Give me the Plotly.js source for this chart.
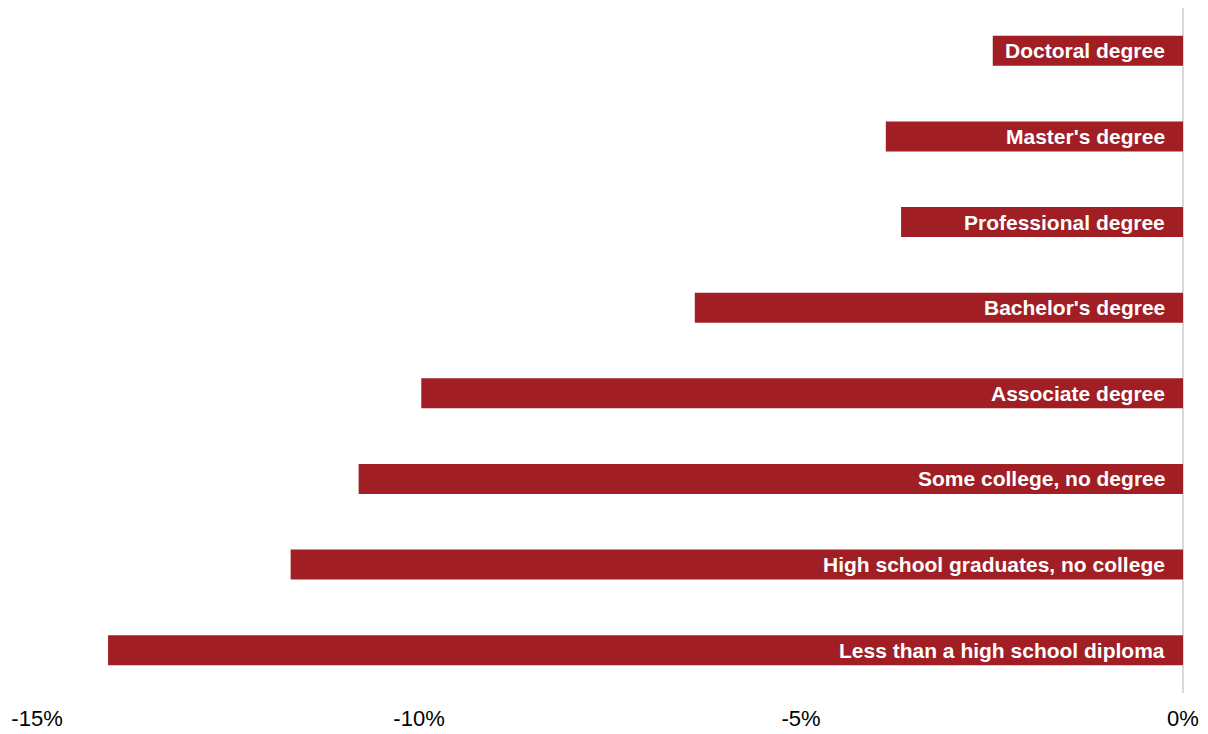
<!DOCTYPE html>
<html>
<head>
<meta charset="utf-8">
<script src="https://cdn.plot.ly/plotly-3.0.1.min.js"></script>
<style>html,body{margin:0;padding:0;background:#fff;}#chart{width:1208px;height:734px;}</style>
</head>
<body>
<div id="chart"></div>
<script>
const categories = [
  "Doctoral degree",
  "Master's degree",
  "Professional degree",
  "Bachelor's degree",
  "Associate degree",
  "Some college, no degree",
  "High school graduates, no college",
  "Less than a high school diploma"
];
const values = [-2.49, -3.89, -3.69, -6.39, -9.97, -10.79, -11.68, -14.07];
const tickVals = [-15, -10, -5, 0];
const tickText = ["-15%", "-10%", "-5%", "0%"];

const trace = {
  type: 'bar',
  orientation: 'h',
  x: values,
  y: categories,
  marker: {color: '#A01E24'},
  width: 0.35,
  hoverinfo: 'x+y'
};

const annotations = categories.map(c => ({
  x: 0, y: c, xref: 'x', yref: 'y',
  text: '<b>' + c + '</b>',
  showarrow: false, xanchor: 'right', yanchor: 'middle',
  xshift: -16,
  font: {family: 'Liberation Sans, Arial, sans-serif', size: 21, color: '#ffffff'}
}));

const layout = {
  width: 1208, height: 734,
  margin: {l: 37, r: 25, t: 8, b: 41},
  paper_bgcolor: '#ffffff', plot_bgcolor: '#ffffff',
  showlegend: false,
  font: {family: 'Liberation Sans, Arial, sans-serif', color: '#000000'},
  xaxis: {
    range: [-15, 0],
    tickvals: tickVals, ticktext: tickText,
    tickfont: {size: 22, color: '#000000'},
    showgrid: false,
    zeroline: true, zerolinecolor: '#d9d9d9', zerolinewidth: 2,
    showline: false,
    ticks: 'outside', ticklen: 6, tickcolor: 'rgba(0,0,0,0)'
  },
  yaxis: {
    type: 'category',
    categoryorder: 'array', categoryarray: categories.slice().reverse(),
    showticklabels: false, showgrid: false, zeroline: false, showline: false
  },
  annotations: annotations
};

Plotly.newPlot('chart', [trace], layout, {displayModeBar: false, staticPlot: true});
</script>
</body>
</html>
